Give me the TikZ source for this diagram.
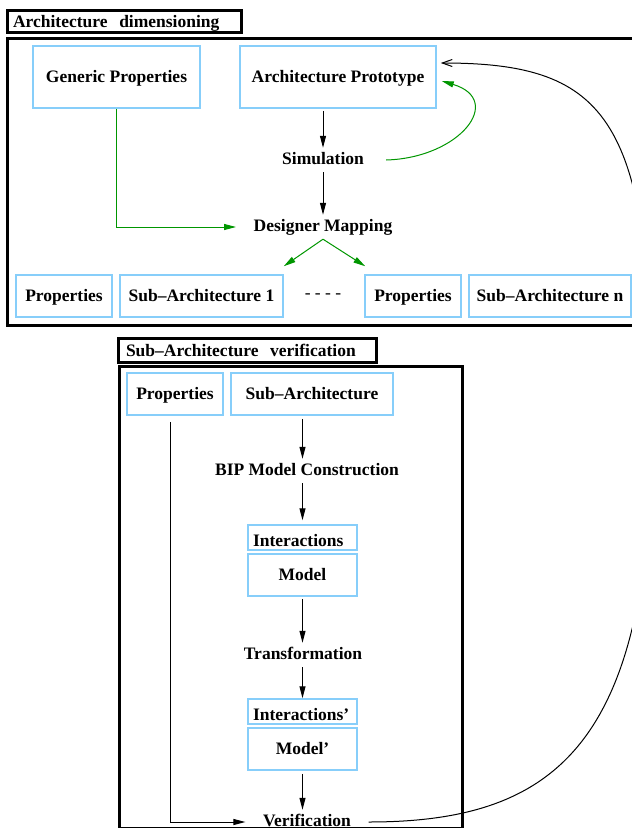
\documentclass[tikz,border=0pt]{standalone}
\usepackage{fontspec}
\setmainfont{Liberation Serif}
\usetikzlibrary{arrows.meta}
\definecolor{boxblue}{RGB}{135,206,250}
\definecolor{arrgreen}{RGB}{0,150,0}
\begin{document}
\begin{tikzpicture}[x=1pt,y=-1pt,
  font=\fontsize{17.5}{21}\selectfont\bfseries,
  box/.style={draw=boxblue, line width=1.5pt, inner sep=0pt, minimum height=42pt, text height=12pt, text depth=2pt},
  ibox/.style={box, minimum width=109pt, minimum height=25pt, text width=99pt, align=left, text height=18pt, text depth=0pt},
  lbl/.style={inner ysep=4pt, text height=12pt, text depth=4pt},
  arr/.style={line width=1pt, -{Triangle[length=12pt,width=6pt]}},
  garr/.style={draw=arrgreen, line width=1pt, -{Triangle[length=12pt,width=6pt]}},
  frame/.style={line width=3pt},
  titlebox/.style={draw, line width=3pt, align=left, text height=13pt, text depth=1pt, inner ysep=2pt}
]
\useasboundingbox (0,0) rectangle (632,828);

% ---------- Architecture dimensioning ----------
\node[titlebox, text width=222pt, inner xsep=6pt, minimum height=22pt] (t1) at (124,21) {Architecture\ \ dimensioning};
\draw[frame] (7,38) rectangle (642,325);

\node[box, minimum width=167pt, minimum height=62pt] (gp) at (116.5,77) {Generic Properties};
\node[box, minimum width=196pt, minimum height=62pt] (ap) at (338,77) {Architecture Prototype};
\node[lbl, inner xsep=22pt] (sim) at (323,160) {Simulation};
\node[lbl, inner xsep=17.5pt] (dm) at (323,227) {Designer Mapping};

\node[box, minimum width=96pt] (pr1) at (64,296) {Properties};
\node[box, minimum width=163pt] (sa1) at (201.5,296) {Sub--Architecture 1};
\node[font=\fontsize{17.5}{21}\selectfont\mdseries] (dots) at (323,296) {- - - -};
\node[box, minimum width=96pt] (pr2) at (413,296) {Properties};
\node[box, minimum width=162pt] (san) at (550,296) {Sub--Architecture n};

\draw[arr, shorten <=2pt] (ap.south -| sim.north) -- (sim.north);
\draw[arr] (sim.south) -- (dm.north);
\draw[garr] (gp.south) |- (dm.west);
\draw[garr] (sim.east) .. controls (460,158) and (505,100) .. ([shift={(5,4)}]ap.east);
\draw[garr] (dm.south) -- ([shift={(0,-8)}]sa1.north east);
\draw[garr] (dm.south) -- ([shift={(1,-8)}]pr2.north west);

% ---------- Sub-Architecture verification ----------
\node[titlebox, text width=242pt, inner xsep=8pt, minimum height=24pt] (t2) at (247,350) {Sub--Architecture\ \ verification};
\draw[frame] (119,366) rectangle (462,828.5);

\node[box, minimum width=96pt] (pr3) at (175,394) {Properties};
\node[box, minimum width=162pt] (sab) at (312,394) {Sub--Architecture};
\node[lbl] (bip) at (307,471) {BIP Model Construction};
\node[ibox] (int1) at (302.5,537.5) {Interactions};
\node[box, minimum width=109pt] (mod1) at (302.5,575) {Model};
\node[lbl] (trans) at (303,655) {Transformation};
\node[ibox] (int2) at (302.5,711.5) {Interactions'};
\node[box, minimum width=109pt] (mod2) at (302.5,749) {Model'};
\node[lbl, inner xsep=17.5pt] (verif) at (307,822) {Verification};

\draw[arr, shorten <=3pt] (sab.south -| mod1.north) -- (bip.north -| mod1.north);
\draw[arr, shorten >=4pt] (bip.south -| mod1.north) -- (int1.north);
\draw[arr, shorten <=2pt] (mod1.south) -- (trans.north -| mod1.south);
\draw[arr] (trans.south -| int2.north) -- (int2.north);
\draw[arr, shorten <=3pt] (mod2.south) -- (verif.north -| mod2.south);
\draw[arr] ([shift={(-5,6)}]pr3.south) |- (verif.west);

% ---------- feedback curve ----------
\coordinate (far) at (652,420);
\draw[line width=1pt, -{Straight Barb[length=10pt,width=7pt]}] (verif.east) .. controls (560,822) and (652,740) .. (far) .. controls (652,120) and (610,63) .. ([shift={(4,-14)}]ap.east);
\end{tikzpicture}
\end{document}
